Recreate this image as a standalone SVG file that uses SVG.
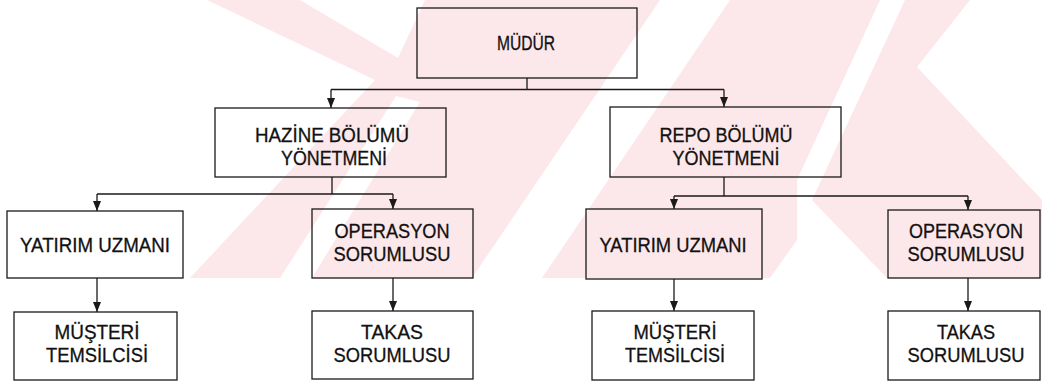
<svg xmlns="http://www.w3.org/2000/svg" width="1042" height="381" viewBox="0 0 1042 381">
  <style>
    .box { fill: none; stroke: #1a1a1a; stroke-width: 1.3; }
    .wire { fill: none; stroke: #1a1a1a; stroke-width: 1.3; }
    .lbl { font-family: "Liberation Sans", Arial, sans-serif; font-size: 20px; fill: #111; stroke: #111; stroke-width: 0.3; text-anchor: middle; }
    .wm { fill: #fce7ea; }
    .wmcut { fill: #ffffff; }
  </style>
  <defs>
    <marker id="arrow" viewBox="0 0 10 8" refX="10" refY="4" markerWidth="10" markerHeight="8" markerUnits="userSpaceOnUse" orient="auto">
      <path d="M0,0 L10,4 L0,8 z" fill="#1a1a1a"/>
    </marker>
    <clipPath id="wmclip">
      <rect x="0" y="0" width="1042" height="278"/>
    </clipPath>
  </defs>

  <rect x="0" y="0" width="1042" height="381" fill="#ffffff"/>

  <!-- faint background emblem -->
  <g id="emblem" clip-path="url(#wmclip)">
    <polygon class="wm" points="207,0 300,0 398,58 425,0 1042,0 1042,278 190,278 375,80"/>
    <polygon class="wmcut" points="280,278 312,278 420,102 396,96"/>
    <polygon class="wmcut" points="472,278 542,278 730,0 660,0"/>
    <polygon class="wmcut" points="917,67 970,0 1042,0 1042,200"/>
    <polygon class="wmcut" points="770,278 797,240 797,180 880,0 905,0 812,200 887,278"/>
  </g>

  <!-- connectors -->
  <g id="connectors">
    <path class="wire" d="M527,78 V89.5 M331,89.5 H724"/>
    <path class="wire" d="M331,89.5 V108" marker-end="url(#arrow)"/>
    <path class="wire" d="M724,89.5 V107" marker-end="url(#arrow)"/>
    <path class="wire" d="M332,177 V194 M97,194 H393"/>
    <path class="wire" d="M97,194 V211" marker-end="url(#arrow)"/>
    <path class="wire" d="M393,194 V209" marker-end="url(#arrow)"/>
    <path class="wire" d="M724,177 V196 M674,196 H968"/>
    <path class="wire" d="M674,196 V209" marker-end="url(#arrow)"/>
    <path class="wire" d="M968,196 V210" marker-end="url(#arrow)"/>
    <path class="wire" d="M97,278 V312" marker-end="url(#arrow)"/>
    <path class="wire" d="M393,278 V311" marker-end="url(#arrow)"/>
    <path class="wire" d="M674,279 V311" marker-end="url(#arrow)"/>
    <path class="wire" d="M968,278 V311" marker-end="url(#arrow)"/>
  </g>

  <!-- nodes -->
  <g id="mudur">
    <rect class="box" x="417" y="8" width="220" height="70"/>
    <text class="lbl" x="526" y="50" textLength="58" lengthAdjust="spacingAndGlyphs">MÜDÜR</text>
  </g>
  <g id="hazine">
    <rect class="box" x="215" y="108" width="231" height="69"/>
    <text class="lbl" x="332" y="142" textLength="154" lengthAdjust="spacingAndGlyphs">HAZİNE BÖLÜMÜ</text>
    <text class="lbl" x="334" y="165" textLength="106" lengthAdjust="spacingAndGlyphs">YÖNETMENİ</text>
  </g>
  <g id="repo">
    <rect class="box" x="610" y="107" width="231" height="70"/>
    <text class="lbl" x="726" y="142" textLength="133" lengthAdjust="spacingAndGlyphs">REPO BÖLÜMÜ</text>
    <text class="lbl" x="726" y="165" textLength="107" lengthAdjust="spacingAndGlyphs">YÖNETMENİ</text>
  </g>
  <g id="yatirim-1">
    <rect class="box" x="7" y="211" width="176" height="67"/>
    <text class="lbl" x="95" y="252" textLength="150" lengthAdjust="spacingAndGlyphs">YATIRIM UZMANI</text>
  </g>
  <g id="operasyon-1">
    <rect class="box" x="312" y="209" width="161" height="69"/>
    <text class="lbl" x="392" y="238" textLength="115" lengthAdjust="spacingAndGlyphs">OPERASYON</text>
    <text class="lbl" x="392" y="261" textLength="117" lengthAdjust="spacingAndGlyphs">SORUMLUSU</text>
  </g>
  <g id="musteri-1">
    <rect class="box" x="14" y="312" width="163" height="68"/>
    <text class="lbl" x="97" y="339" textLength="85" lengthAdjust="spacingAndGlyphs">MÜŞTERİ</text>
    <text class="lbl" x="97" y="362" textLength="102" lengthAdjust="spacingAndGlyphs">TEMSİLCİSİ</text>
  </g>
  <g id="takas-1">
    <rect class="box" x="312" y="311" width="161" height="68"/>
    <text class="lbl" x="392" y="339" textLength="62" lengthAdjust="spacingAndGlyphs">TAKAS</text>
    <text class="lbl" x="392" y="362" textLength="117" lengthAdjust="spacingAndGlyphs">SORUMLUSU</text>
  </g>
  <g id="yatirim-2">
    <rect class="box" x="586" y="209" width="176" height="70"/>
    <text class="lbl" x="673" y="252" textLength="147" lengthAdjust="spacingAndGlyphs">YATIRIM UZMANI</text>
  </g>
  <g id="operasyon-2">
    <rect class="box" x="888" y="210" width="152" height="68"/>
    <text class="lbl" x="966" y="238" textLength="114" lengthAdjust="spacingAndGlyphs">OPERASYON</text>
    <text class="lbl" x="966" y="261" textLength="117" lengthAdjust="spacingAndGlyphs">SORUMLUSU</text>
  </g>
  <g id="musteri-2">
    <rect class="box" x="592" y="311" width="162" height="69"/>
    <text class="lbl" x="675" y="339" textLength="83" lengthAdjust="spacingAndGlyphs">MÜŞTERİ</text>
    <text class="lbl" x="675" y="362" textLength="100" lengthAdjust="spacingAndGlyphs">TEMSİLCİSİ</text>
  </g>
  <g id="takas-2">
    <rect class="box" x="888" y="311" width="152" height="69"/>
    <text class="lbl" x="966" y="339" textLength="58" lengthAdjust="spacingAndGlyphs">TAKAS</text>
    <text class="lbl" x="966" y="362" textLength="117" lengthAdjust="spacingAndGlyphs">SORUMLUSU</text>
  </g>
</svg>
